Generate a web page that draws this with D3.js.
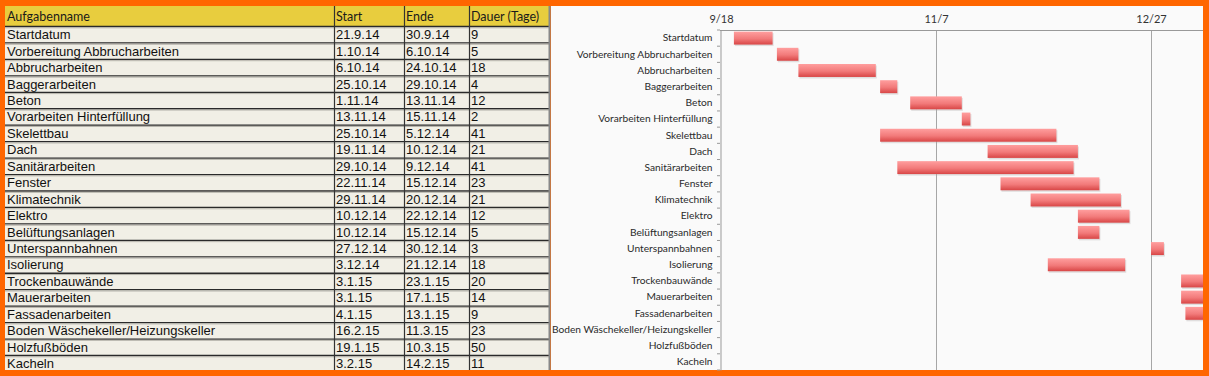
<!DOCTYPE html>
<html>
<head>
<meta charset="utf-8">
<script src="https://cdn.jsdelivr.net/npm/d3@7"></script>
<style>
    body { margin: 0; background: #ff6600; }
    svg { display: block; }
</style>
</head>
<body>
<svg id="chart" width="1209" height="376"></svg>
<script>
// table / chart data
var taskNames = ["Startdatum", "Vorbereitung Abbrucharbeiten", "Abbrucharbeiten", "Baggerarbeiten", "Beton",
    "Vorarbeiten Hinterfüllung", "Skelettbau", "Dach", "Sanitärarbeiten", "Fenster", "Klimatechnik", "Elektro",
    "Belüftungsanlagen", "Unterspannbahnen", "Isolierung", "Trockenbauwände", "Mauerarbeiten", "Fassadenarbeiten",
    "Boden Wäschekeller/Heizungskeller", "Holzfußböden", "Kacheln"];
var startDates = ["21.9.14", "1.10.14", "6.10.14", "25.10.14", "1.11.14", "13.11.14", "25.10.14", "19.11.14",
    "29.10.14", "22.11.14", "29.11.14", "10.12.14", "10.12.14", "27.12.14", "3.12.14", "3.1.15", "3.1.15",
    "4.1.15", "16.2.15", "19.1.15", "3.2.15"];
var endDates = ["30.9.14", "6.10.14", "24.10.14", "29.10.14", "13.11.14", "15.11.14", "5.12.14", "10.12.14",
    "9.12.14", "15.12.14", "20.12.14", "22.12.14", "15.12.14", "30.12.14", "21.12.14", "23.1.15", "17.1.15",
    "13.1.15", "11.3.15", "10.3.15", "14.2.15"];
var durations = [9, 5, 18, 4, 12, 2, 41, 21, 41, 23, 21, 12, 5, 3, 18, 20, 14, 9, 23, 50, 11];
var headers = ["Aufgabenname", "Start", "Ende", "Dauer (Tage)"];
var axisTicks = ["18.9.14", "7.11.14", "27.12.14"];

var parse = d3.timeParse("%d.%m.%y");
var svg = d3.select("#chart");

// ---------- table ----------
var colX = [5, 334, 404, 469, 549];
var headTop = 6, headH = 20, rowH = 16.45;

var table = svg.append("g");

table.append("rect")
    .attr("x", 5).attr("y", headTop)
    .attr("width", colX[4] - 5).attr("height", 370 - headTop)
    .attr("fill", "#f1efe6");

table.append("rect")
    .attr("x", 5).attr("y", headTop)
    .attr("width", colX[4] - 5).attr("height", headH)
    .attr("fill", "#e8cd3e");

table.selectAll(".head")
    .data(headers)
    .enter().append("text")
    .attr("class", "head")
    .attr("x", function (d, i) { return colX[i] + 2; })
    .attr("y", headTop + 15)
    .style("font-family", "Lato, 'Open Sans', sans-serif")
    .style("font-size", "12.5px")
    .style("fill", "#1a1a1a")
    .text(function (d) { return d; });

var rows = taskNames.map(function (name, i) {
    return [name, startDates[i], endDates[i], String(durations[i])];
});

var rowG = table.selectAll(".row")
    .data(rows)
    .enter().append("g")
    .attr("class", "row")
    .attr("transform", function (d, i) {
        return "translate(0," + (headTop + headH + i * rowH) + ")";
    });

rowG.append("line")
    .attr("x1", 5).attr("x2", colX[4])
    .attr("y1", 0.5).attr("y2", 0.5)
    .attr("stroke", "#2a2a2a").attr("stroke-width", 1.3);

rowG.append("line")
    .attr("x1", 5).attr("x2", colX[4])
    .attr("y1", 1.8).attr("y2", 1.8)
    .attr("stroke", "#b5b3ab").attr("stroke-width", 1);

rowG.selectAll("text")
    .data(function (d) { return d; })
    .enter().append("text")
    .attr("x", function (d, i) { return colX[i] + 2; })
    .attr("y", 13.2)
    .style("font-family", "'Liberation Sans', Arial, sans-serif")
    .style("font-size", "13px")
    .style("fill", "#111")
    .text(function (d) { return d; });

// column separators
table.selectAll(".colsep")
    .data(colX.slice(1, 4))
    .enter().append("line")
    .attr("x1", function (d) { return d + 0.5; })
    .attr("x2", function (d) { return d + 0.5; })
    .attr("y1", headTop).attr("y2", 370)
    .attr("stroke", "#333").attr("stroke-width", 1.2);

table.append("line")
    .attr("x1", colX[4] + 0.5).attr("x2", colX[4] + 0.5)
    .attr("y1", headTop).attr("y2", 370)
    .attr("stroke", "#888").attr("stroke-width", 2);

// ---------- gantt chart ----------
var chartLeft = 551, chartRight = 1203, plotLeft = 720, plotTop = 30, plotBottom = 370;

svg.append("rect")
    .attr("x", chartLeft).attr("y", headTop)
    .attr("width", chartRight - chartLeft).attr("height", 370 - headTop)
    .attr("fill", "#fafafa");

var tickDates = axisTicks.map(parse);

var x = d3.scaleTime()
    .domain([tickDates[0], tickDates[2]])
    .range([721, 1151]);

var y = d3.scaleBand()
    .domain(taskNames)
    .range([plotTop, plotBottom])
    .paddingInner(0.2)
    .paddingOuter(0.1);

var defs = svg.append("defs");

var grad = defs.append("linearGradient")
    .attr("id", "barGrad")
    .attr("x1", 0).attr("y1", 0).attr("x2", 0).attr("y2", 1);
grad.append("stop").attr("offset", "0%").attr("stop-color", "#ff9e9e");
grad.append("stop").attr("offset", "55%").attr("stop-color", "#f27a7a");
grad.append("stop").attr("offset", "100%").attr("stop-color", "#d84646");

defs.append("clipPath").attr("id", "plotClip")
    .append("rect")
    .attr("x", plotLeft).attr("y", plotTop)
    .attr("width", chartRight - plotLeft).attr("height", plotBottom - plotTop);

// grid lines
svg.selectAll(".grid")
    .data(tickDates.slice(1))
    .enter().append("line")
    .attr("class", "grid")
    .attr("x1", function (d) { return Math.round(x(d)) + 0.5; })
    .attr("x2", function (d) { return Math.round(x(d)) + 0.5; })
    .attr("y1", plotTop).attr("y2", plotBottom)
    .attr("stroke", "#a6a6a6");

// top axis
var xAxis = d3.axisTop(x)
    .tickValues(tickDates)
    .tickSize(0)
    .tickPadding(8)
    .tickFormat(d3.timeFormat("%-m/%-d"));

var gx = svg.append("g")
    .attr("transform", "translate(0," + (plotTop + 0.5) + ")")
    .call(xAxis);
gx.select(".domain").remove();
gx.selectAll("text")
    .style("font-family", "Lato, 'Open Sans', sans-serif")
    .style("font-size", "11px")
    .style("fill", "#333");

svg.append("line")
    .attr("x1", plotLeft).attr("x2", chartRight)
    .attr("y1", plotTop + 0.5).attr("y2", plotTop + 0.5)
    .attr("stroke", "#999");

// left axis
var yAxis = d3.axisLeft(y).tickSize(0).tickPadding(8);
var gy = svg.append("g")
    .attr("transform", "translate(" + (plotLeft + 0.5) + ",0)")
    .call(yAxis);
gy.select(".domain").attr("stroke", "#999");
gy.selectAll("text")
    .style("font-family", "Lato, 'Open Sans', sans-serif")
    .style("font-size", "10.2px")
    .style("fill", "#2a2a2a");

// tick marks on band boundaries
var step = (plotBottom - plotTop) / taskNames.length;
svg.selectAll(".ytick")
    .data(d3.range(taskNames.length + 1))
    .enter().append("line")
    .attr("x1", plotLeft - 3).attr("x2", plotLeft)
    .attr("y1", function (d) { return plotTop + d * step; })
    .attr("y2", function (d) { return plotTop + d * step; })
    .attr("stroke", "#999");

// bars
var bars = svg.append("g").attr("clip-path", "url(#plotClip)");
var barData = taskNames.map(function (name, i) {
    return {name: name, start: parse(startDates[i]), end: parse(endDates[i])};
});

bars.selectAll(".shadow")
    .data(barData)
    .enter().append("rect")
    .attr("class", "shadow")
    .attr("x", function (d) { return x(d.start) + 1; })
    .attr("y", function (d) { return y(d.name) + 1.5; })
    .attr("width", function (d) { return x(d.end) - x(d.start); })
    .attr("height", y.bandwidth())
    .attr("fill", "#b0a8a8")
    .attr("opacity", 0.35);

bars.selectAll(".bar")
    .data(barData)
    .enter().append("rect")
    .attr("class", "bar")
    .attr("x", function (d) { return x(d.start); })
    .attr("y", function (d) { return y(d.name); })
    .attr("width", function (d) { return x(d.end) - x(d.start); })
    .attr("height", y.bandwidth())
    .attr("fill", "url(#barGrad)");
</script>
</body>
</html>
